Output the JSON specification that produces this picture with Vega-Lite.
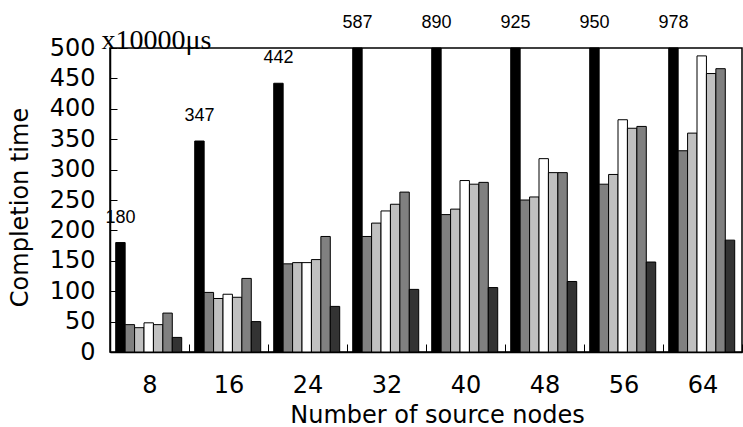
{
  "$schema": "https://vega.github.io/schema/vega-lite/v6.json",
  "autosize": {"type": "none"},
  "width": 632,
  "height": 304,
  "padding": {"left": 110, "top": 48, "right": 1, "bottom": 75},
  "background": "white",
  "config": {
    "view": {"stroke": "black", "strokeWidth": 1.5},
    "font": "DejaVu Sans"
  },
  "data": {
    "values": [
      {"nodes": "8", "series": "s1", "value": 180},
      {"nodes": "8", "series": "s2", "value": 45},
      {"nodes": "8", "series": "s3", "value": 40},
      {"nodes": "8", "series": "s4", "value": 48},
      {"nodes": "8", "series": "s5", "value": 45},
      {"nodes": "8", "series": "s6", "value": 64},
      {"nodes": "8", "series": "s7", "value": 24},
      {"nodes": "16", "series": "s1", "value": 347},
      {"nodes": "16", "series": "s2", "value": 98},
      {"nodes": "16", "series": "s3", "value": 88},
      {"nodes": "16", "series": "s4", "value": 95},
      {"nodes": "16", "series": "s5", "value": 90},
      {"nodes": "16", "series": "s6", "value": 121},
      {"nodes": "16", "series": "s7", "value": 50},
      {"nodes": "24", "series": "s1", "value": 442},
      {"nodes": "24", "series": "s2", "value": 145},
      {"nodes": "24", "series": "s3", "value": 147},
      {"nodes": "24", "series": "s4", "value": 147},
      {"nodes": "24", "series": "s5", "value": 152},
      {"nodes": "24", "series": "s6", "value": 190},
      {"nodes": "24", "series": "s7", "value": 75},
      {"nodes": "32", "series": "s1", "value": 587},
      {"nodes": "32", "series": "s2", "value": 190},
      {"nodes": "32", "series": "s3", "value": 212},
      {"nodes": "32", "series": "s4", "value": 232},
      {"nodes": "32", "series": "s5", "value": 243},
      {"nodes": "32", "series": "s6", "value": 263},
      {"nodes": "32", "series": "s7", "value": 103},
      {"nodes": "40", "series": "s1", "value": 890},
      {"nodes": "40", "series": "s2", "value": 226},
      {"nodes": "40", "series": "s3", "value": 235},
      {"nodes": "40", "series": "s4", "value": 282},
      {"nodes": "40", "series": "s5", "value": 276},
      {"nodes": "40", "series": "s6", "value": 279},
      {"nodes": "40", "series": "s7", "value": 106},
      {"nodes": "48", "series": "s1", "value": 925},
      {"nodes": "48", "series": "s2", "value": 250},
      {"nodes": "48", "series": "s3", "value": 255},
      {"nodes": "48", "series": "s4", "value": 318},
      {"nodes": "48", "series": "s5", "value": 295},
      {"nodes": "48", "series": "s6", "value": 295},
      {"nodes": "48", "series": "s7", "value": 116},
      {"nodes": "56", "series": "s1", "value": 950},
      {"nodes": "56", "series": "s2", "value": 276},
      {"nodes": "56", "series": "s3", "value": 292},
      {"nodes": "56", "series": "s4", "value": 382},
      {"nodes": "56", "series": "s5", "value": 368},
      {"nodes": "56", "series": "s6", "value": 371},
      {"nodes": "56", "series": "s7", "value": 148},
      {"nodes": "64", "series": "s1", "value": 978},
      {"nodes": "64", "series": "s2", "value": 331},
      {"nodes": "64", "series": "s3", "value": 360},
      {"nodes": "64", "series": "s4", "value": 487},
      {"nodes": "64", "series": "s5", "value": 458},
      {"nodes": "64", "series": "s6", "value": 466},
      {"nodes": "64", "series": "s7", "value": 184}
    ]
  },
  "encoding": {
    "x": {
      "field": "nodes",
      "type": "nominal",
      "sort": null,
      "scale": {"paddingInner": 0, "paddingOuter": 0},
      "axis": {
        "title": "Number of source nodes",
        "labelAngle": 0,
        "labelFont": "DejaVu Sans",
        "labelFontSize": 24,
        "labelColor": "black",
        "labelBaseline": "alphabetic",
        "labelPadding": 48,
        "tickBand": "extent",
        "tickSize": -8,
        "tickColor": "black",
        "tickWidth": 1,
        "domainColor": "black",
        "domainWidth": 1.5,
        "titleFont": "DejaVu Sans",
        "titleFontSize": 24,
        "titleFontWeight": "normal",
        "titleColor": "black",
        "titleBaseline": "alphabetic",
        "titleX": 327,
        "titleY": 70
      }
    },
    "xOffset": {
      "field": "series",
      "type": "nominal",
      "sort": null,
      "scale": {"paddingOuter": 0.69, "paddingInner": 0, "align": 0.44}
    }
  },
  "layer": [
    {
      "mark": {"type": "bar", "stroke": "black", "strokeWidth": 1},
      "encoding": {
        "y": {
          "field": "value",
          "type": "quantitative",
          "scale": {"domain": [0, 500], "clamp": true, "nice": false},
          "axis": {
            "orient": "left",
            "title": "Completion time",
            "values": [0, 50, 100, 150, 200, 250, 300, 350, 400, 450, 500],
            "grid": false,
            "labelFont": "DejaVu Sans",
            "labelFontSize": 24,
            "labelColor": "black",
            "labelPadding": 22,
            "tickSize": -7,
            "tickColor": "black",
            "tickWidth": 1,
            "domainColor": "black",
            "domainWidth": 1.5,
            "titleFont": "DejaVu Sans",
            "titleFontSize": 24,
            "titleFontWeight": "normal",
            "titleColor": "black",
            "titleAngle": -90,
            "titleBaseline": "bottom",
            "titleX": -78,
            "titleY": 159
          }
        },
        "fill": {
          "field": "series",
          "type": "nominal",
          "scale": {
            "domain": ["s1", "s2", "s3", "s4", "s5", "s6", "s7"],
            "range": ["#000000", "#808080", "#c0c0c0", "#ffffff", "#c0c0c0", "#808080", "#333333"]
          },
          "legend": null
        }
      }
    },
    {
      "transform": [{"filter": "datum.series == 's1'"}],
      "mark": {"type": "text", "dy": -25, "fontSize": 18, "font": "Liberation Sans", "color": "black", "baseline": "middle"},
      "encoding": {
        "y": {
          "field": "value",
          "type": "quantitative",
          "axis": {
            "orient": "left",
            "title": "x10000μs",
            "labels": false,
            "ticks": false,
            "domain": false,
            "grid": false,
            "titleFont": "Liberation Serif",
            "titleFontSize": 28,
            "titleFontWeight": "normal",
            "titleColor": "black",
            "titleAngle": 0,
            "titleAlign": "left",
            "titleBaseline": "alphabetic",
            "titleX": -9,
            "titleY": 0
          }
        },
        "text": {"field": "value", "type": "quantitative"}
      }
    }
  ],
  "resolve": {"axis": {"y": "independent"}}
}
